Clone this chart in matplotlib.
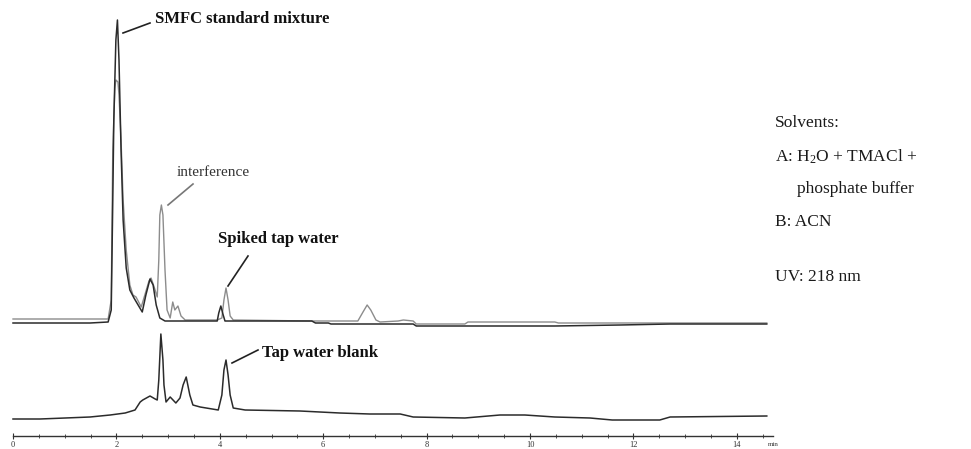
import matplotlib
matplotlib.use("Agg")
import matplotlib.pyplot as plt
from matplotlib.ticker import FixedLocator

plt.rcParams['font.family'] = ['Liberation Serif', 'DejaVu Serif']
plt.rcParams['mathtext.fontset'] = 'custom'
plt.rcParams['mathtext.rm'] = 'Liberation Serif'
plt.rcParams['mathtext.it'] = 'Liberation Serif:italic'

# ---------------- data (retention time in min, detector signal in arbitrary units) ----
smfc_time = [0, 1.49, 1.84, 1.90, 1.93, 1.95, 1.99, 2.02, 2.05, 2.09, 2.13, 2.19, 2.26,
             2.34, 2.42, 2.50, 2.57, 2.65, 2.71, 2.77, 2.84, 2.94, 3.5, 3.95, 3.98, 4.02,
             4.06, 4.10, 4.5, 5.78, 5.85, 6.10, 6.15, 7.0, 7.74, 7.8, 8.74, 10.48, 11.74,
             12.71, 14.58]
smfc_signal = [0, 0, 1, 13, 123, 203, 283, 303, 263, 173, 103, 55, 33,
               25, 18, 11, 28, 44, 38, 18, 5, 2, 2, 2, 10, 17,
               9, 2, 2, 2, 0, 0, -1, -1, -1, -3, -3, -3, -2,
               -1, -1]

spiked_time = [0, 1.49, 1.84, 1.90, 1.93, 1.97, 1.99, 2.03, 2.05, 2.09, 2.13, 2.19, 2.26,
               2.32, 2.38, 2.44, 2.48, 2.55, 2.63, 2.67, 2.73, 2.79, 2.82, 2.84, 2.87,
               2.90, 2.94, 2.98, 3.04, 3.09, 3.13, 3.19, 3.25, 3.33, 3.95, 4.04, 4.08,
               4.12, 4.16, 4.20, 4.26, 5.78, 6.67, 6.77, 6.85, 6.92, 7.02, 7.10, 7.45,
               7.55, 7.74, 7.8, 8.74, 8.8, 10.48, 10.55, 14.58]
spiked_signal = [4, 4, 4, 23, 173, 235, 243, 241, 228, 183, 123, 73, 38,
                 28, 26, 20, 16, 28, 42, 45, 36, 26, 63, 108, 118,
                 108, 53, 13, 5, 21, 13, 17, 7, 3, 3, 5, 23,
                 35, 23, 7, 3, 2, 2, 11, 18, 13, 3, 1, 2,
                 3, 2, -1, -1, 1, 1, 0, 0]

blank_time = [0, 0.52, 1.01, 1.49, 1.88, 2.17, 2.36, 2.46, 2.51, 2.65, 2.75, 2.79, 2.82,
              2.86, 2.90, 2.92, 2.96, 3.04, 3.15, 3.23, 3.29, 3.35, 3.42, 3.48, 3.62,
              3.97, 4.04, 4.08, 4.12, 4.16, 4.20, 4.26, 4.49, 5.55, 6.32, 6.9, 7.49,
              7.74, 8.74, 9.42, 9.90, 10.48, 11.16, 11.59, 12.51, 12.71, 14.58]
blank_signal = [0, 0, 1, 2, 4, 6, 9, 17, 19, 23, 20, 19, 39,
                85, 59, 34, 17, 22, 16, 21, 34, 42, 24, 14, 12,
                9, 24, 49, 59, 44, 24, 11, 9, 8, 6, 5, 5,
                2, 1, 4, 4, 2, 1, -1, -1, 2, 3]

x_major_ticks = [0, 2, 4, 6, 8, 10, 12, 14]
x_minor_ticks = [0.5, 1, 1.5, 2.5, 3, 3.5, 4.5, 5, 5.5, 6.5, 7, 7.5, 8.5, 9, 9.5,
                 10.5, 11, 11.5, 12.5, 13, 13.5, 14.5]
x_tick_labels = ['0', '2', '4', '6', '8', '10', '12', '14']

# ---------------- layout -------------------------------------------------------------
W, H = 971, 449
fig = plt.figure(figsize=(W / 100, H / 100), dpi=100)
ax = fig.add_axes([0, 0, 1, 1])
PX_PER_MIN = 51.7
X0 = 13
ax.set_xlim(-X0 / PX_PER_MIN, (W - X0) / PX_PER_MIN)
ax.set_ylim(0, H)

UPPER_OFFSET = H - 323
LOWER_OFFSET = H - 419

ax.plot(spiked_time, [v + UPPER_OFFSET for v in spiked_signal], color='#8c8c8c', lw=1.0, zorder=2)
ax.plot(smfc_time, [v + UPPER_OFFSET for v in smfc_signal], color='#2b2b2b', lw=1.1, zorder=3)
ax.plot(blank_time, [v + LOWER_OFFSET for v in blank_signal], color='#2b2b2b', lw=1.1, zorder=3)

# time axis
for s in ['left', 'right', 'top']:
    ax.spines[s].set_visible(False)
ax.spines['bottom'].set_position(('data', H - 436))
ax.spines['bottom'].set_bounds(0, 14.7)
ax.spines['bottom'].set_color('#333333')
ax.spines['bottom'].set_linewidth(1.0)
ax.set_yticks([])
ax.set_xticks(x_major_ticks)
ax.set_xticklabels(x_tick_labels)
ax.xaxis.set_minor_locator(FixedLocator(x_minor_ticks))
ax.tick_params(axis='x', which='major', direction='inout', length=5, width=0.8,
               labelsize=6, pad=1, colors='#333333')
ax.tick_params(axis='x', which='minor', direction='inout', length=3, width=0.6, colors='#333333')
fig.text(768 / W, 1 - 444 / H, 'min', fontsize=5, va='center', ha='left', color='#333333')

def px(x, y):
    return ((x - X0) / PX_PER_MIN, H - y)

# annotations
def label(text, tx, ty, p1, p2, bold=True, color='#111111', size=12, lcolor='#222222'):
    ax.text(*px(tx, ty), text, fontsize=size, fontweight='bold' if bold else 'normal',
            color=color, va='center', ha='left')
    (x1, y1), (x2, y2) = px(*p1), px(*p2)
    ax.plot([x1, x2], [y1, y2], color=lcolor, lw=1.2)

label('SMFC standard mixture', 155, 19, (123, 33), (150, 23))
label('interference', 177, 172, (168, 205), (193, 184), bold=False, color='#333333',
      size=11, lcolor='#777777')
label('Spiked tap water', 218, 239, (228, 286), (248, 256))
label('Tap water blank', 262, 353, (232, 363), (258, 350))

# solvent info
info = [('Solvents:', 775, 123), ('A: H$_2$O + TMACl +', 775, 157),
        ('phosphate buffer', 797, 189), ('B: ACN', 775, 222), ('UV: 218 nm', 775, 277)]
for t, x, y in info:
    fig.text(x / W, 1 - y / H, t, fontsize=12.5, va='center', ha='left', color='#1a1a1a')

fig.savefig('out.png', dpi=100)
